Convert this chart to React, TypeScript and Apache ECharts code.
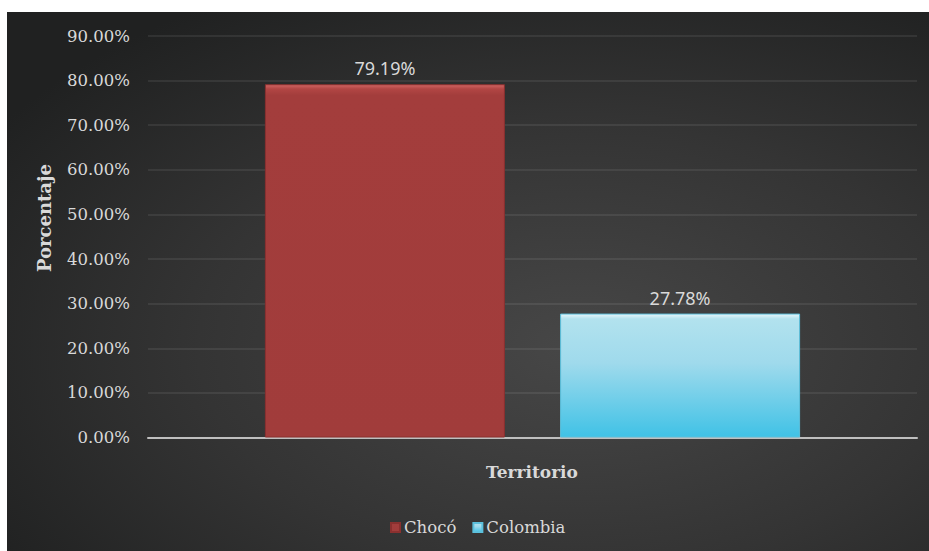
import React, { useEffect, useRef } from "react";
import * as echarts from "echarts";

const categories = ["Territorio"];
const seriesNames = ["Chocó", "Colombia"];
const chocoValues = [79.19];
const colombiaValues = [27.78];
const yTicks = [0, 10, 20, 30, 40, 50, 60, 70, 80, 90];

export default function App() {
  const ref = useRef<HTMLDivElement>(null);
  useEffect(() => {
    if (!ref.current) return;
    const chart = echarts.init(ref.current, null, { renderer: "svg" });
    const serif = "DejaVu Serif";
    chart.setOption({
      animation: false,
      backgroundColor: {
        type: "radial",
        x: 0.62,
        y: 0.62,
        r: 0.75,
        colorStops: [
          { offset: 0, color: "#474747" },
          { offset: 0.55, color: "#343434" },
          { offset: 1, color: "#202121" },
        ],
      },
      grid: { left: 141, right: 12, top: 24, bottom: 113.5 },
      xAxis: {
        type: "category",
        data: categories,
        axisLine: { lineStyle: { color: "#bfbfbf", width: 2 } },
        axisTick: { show: false },
        axisLabel: { show: false },
      },
      yAxis: {
        type: "value",
        min: yTicks[0],
        max: yTicks[yTicks.length - 1],
        interval: 10,
        axisLine: { show: false },
        axisTick: { show: false },
        splitLine: { lineStyle: { color: "rgba(255,255,255,0.1)", width: 1.5 } },
        axisLabel: {
          color: "#d9d9d9",
          fontFamily: serif,
          fontSize: 16.5,
          margin: 18,
          formatter: (v: number) => v.toFixed(2) + "%",
        },
      },
      legend: {
        data: seriesNames,
        left: 378,
        top: 502,
        itemWidth: 9,
        itemHeight: 9,
        itemGap: 16,
        icon: "rect",
        textStyle: { color: "#d9d9d9", fontFamily: serif, fontSize: 16.5, padding: [0, 0, 0, -1] },
      },
      graphic: [
        {
          type: "text",
          x: 37,
          y: 206,
          rotation: Math.PI / 2,
          style: {
            text: "Porcentaje",
            fill: "#d9d9d9",
            font: "bold 18px 'DejaVu Serif'",
            align: "center",
            verticalAlign: "middle",
          },
        },
        {
          type: "text",
          x: 525,
          y: 460,
          style: {
            text: "Territorio",
            fill: "#d9d9d9",
            font: "bold 17px 'DejaVu Serif'",
            align: "center",
            verticalAlign: "middle",
          },
        },
      ],
      series: [
        {
          name: seriesNames[0],
          type: "bar",
          data: chocoValues,
          barWidth: 240,
          barGap: "23%",
          itemStyle: {
            color: {
              type: "linear",
              x: 0, y: 0, x2: 0, y2: 1,
              colorStops: [
                { offset: 0, color: "#d16664" },
                { offset: 0.012, color: "#b24644" },
                { offset: 0.03, color: "#a33d3c" },
                { offset: 1, color: "#a13c3b" },
              ],
            },
            borderColor: "#8a302f",
            borderWidth: 1,
          },
          label: {
            show: true,
            position: "top",
            distance: 7,
            color: "#d9d9d9",
            fontFamily: "Noto Sans",
            fontSize: 18,
            formatter: (p: any) => p.value.toFixed(2) + "%",
          },
        },
        {
          name: seriesNames[1],
          type: "bar",
          data: colombiaValues,
          barWidth: 240,
          itemStyle: {
            color: {
              type: "linear",
              x: 0, y: 0, x2: 0, y2: 1,
              colorStops: [
                { offset: 0, color: "#e8f6fa" },
                { offset: 0.04, color: "#b2e2ee" },
                { offset: 0.4, color: "#9fdaec" },
                { offset: 1, color: "#40c2e6" },
              ],
            },
            borderColor: "#5cc0dc",
            borderWidth: 1,
          },
          label: {
            show: true,
            position: "top",
            distance: 7,
            color: "#d9d9d9",
            fontFamily: "Noto Sans",
            fontSize: 18,
            formatter: (p: any) => p.value.toFixed(2) + "%",
          },
        },
      ],
    });
    return () => chart.dispose();
  }, []);
  return (
    <div
      ref={ref}
      style={{ position: "absolute", left: 7, top: 12, width: 922, height: 539 }}
    />
  );
}
